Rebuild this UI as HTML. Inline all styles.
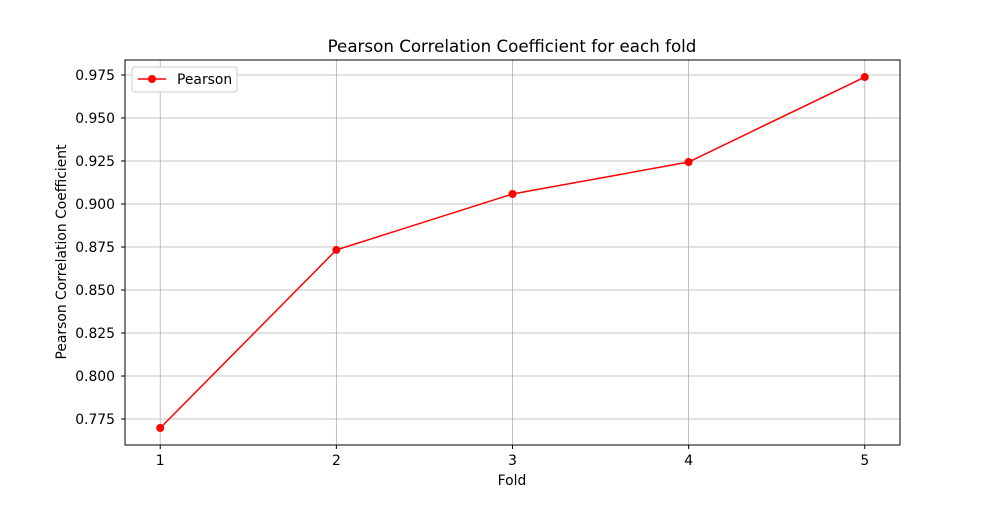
<!DOCTYPE html>
<html><head><meta charset="utf-8"><style>
body{margin:0;background:#fff;}
svg{font-family:"DejaVu Sans","Liberation Sans",sans-serif;}
</style></head><body>
<svg id="chart" width="1000" height="500" viewBox="0 0 1000 500" xmlns="http://www.w3.org/2000/svg">
<rect width="1000" height="500" fill="#fff"/>
<g id="grid"></g>
<g id="ticks"></g>
<g id="series"></g>
<rect x="125" y="60" width="775" height="385" fill="none" stroke="#000" stroke-width="1"/>
<text x="512" y="52" font-size="16.7" text-anchor="middle">Pearson Correlation Coefficient for each fold</text>
<text x="512" y="485" font-size="13.9" text-anchor="middle">Fold</text>
<text x="66" y="252" font-size="13.9" text-anchor="middle" transform="rotate(-90 66 252)">Pearson Correlation Coefficient</text>
<g>
<rect x="132" y="67" width="105" height="25" fill="#fff" stroke="#ccc" rx="3"/>
<line x1="138" y1="79" x2="166" y2="79" stroke="#ff0000" stroke-width="1.5"/>
<circle cx="152" cy="79" r="4" fill="#ff0000"/>
<text x="177" y="84" font-size="13.9">Pearson</text>
</g>
</svg>
<script>
const folds = [1, 2, 3, 4, 5];
const pearson = [0.7698, 0.8733, 0.9058, 0.9244, 0.9738];
const yTicks = [0.775, 0.800, 0.825, 0.850, 0.875, 0.900, 0.925, 0.950, 0.975];
const yTickLabels = ["0.775","0.800","0.825","0.850","0.875","0.900","0.925","0.950","0.975"];

const L=125,R=900,T=60,B=445;
const xMin=0.8,xMax=5.2,yMin=0.7599,yMax=0.9837;
const xs=v=>L+(v-xMin)/(xMax-xMin)*(R-L);
const ys=v=>B-(v-yMin)/(yMax-yMin)*(B-T);
const NS="http://www.w3.org/2000/svg";
function mk(tag,attrs,parent){const e=document.createElementNS(NS,tag);for(const k in attrs)e.setAttribute(k,attrs[k]);parent.appendChild(e);return e;}
const grid=document.getElementById('grid'),ticks=document.getElementById('ticks'),series=document.getElementById('series');
folds.forEach(f=>{
  const x=xs(f);
  const g=mk('line',{x1:x,x2:x,y1:T,y2:B,stroke:'#b0b0b0','stroke-width':0.8},grid);
  
  
  mk('line',{x1:x,x2:x,y1:B,y2:B+4,stroke:'#000'},ticks);
  const t=mk('text',{x:x,y:B+20,'font-size':13.9,'text-anchor':'middle'},ticks);
  t.textContent=String(f);
  
  
});
yTicks.forEach((v,i)=>{
  const y=ys(v);
  const g=mk('line',{x1:L,x2:R,y1:y,y2:y,stroke:'#b0b0b0','stroke-width':0.8},grid);
  
  
  mk('line',{x1:L-4,x2:L,y1:y,y2:y,stroke:'#000'},ticks);
  const t=mk('text',{x:L-10,y:y+5,'font-size':13.9,'text-anchor':'end'},ticks);
  t.textContent=yTickLabels[i];
  
  
});
const pts=folds.map((f,i)=>xs(f)+','+ys(pearson[i])).join(' ');
const line=mk('polyline',{points:pts,fill:'none',stroke:'#ff0000','stroke-width':1.5},series);


folds.forEach((f,i)=>{
  const c=mk('circle',{cx:xs(f),cy:ys(pearson[i]),r:4,fill:'#ff0000'},series);
  
  
});
</script>
</body></html>
